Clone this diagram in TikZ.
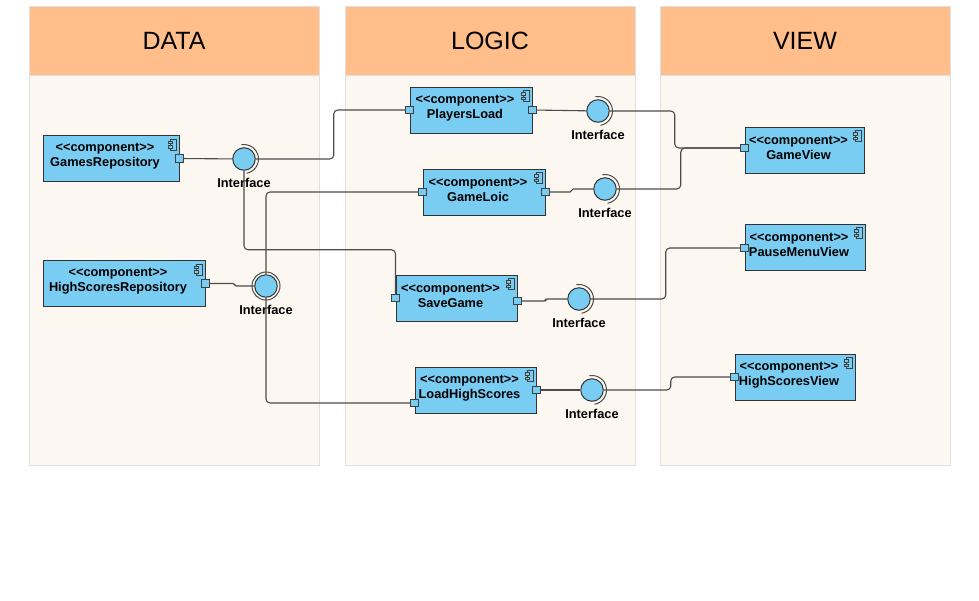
\documentclass[tikz,border=0pt]{standalone}
\usepackage{fontspec}
\setmainfont{Liberation Sans}
\usepackage{xcolor}
\usetikzlibrary{calc}
\usetikzlibrary{shapes}

\definecolor{compblue}{HTML}{79CDF2}
\definecolor{lanehead}{HTML}{FFBE8A}
\definecolor{lanebody}{HTML}{FDF7F1}

\begin{document}
\begin{tikzpicture}[x=1pt,y=-1pt,
	comp/.style={draw=black!80,fill=compblue,line width=1pt,minimum width=121pt,minimum height=46pt,inner sep=0pt},
	ctext/.style={font=\fontsize{12.8}{15}\selectfont\bfseries,align=center,inner sep=0pt},
	port/.style={draw=black!75,fill=compblue,line width=0.8pt,minimum size=7.5pt,inner sep=0pt},
	iface/.style={circle,draw=black!80,fill=compblue,line width=1pt,minimum size=22.5pt,inner sep=0pt,label={[ctext,label distance=7pt]below:Interface}},
	wire/.style={draw=black!70,line width=1.1pt,rounded corners=4pt},
	jog/.style={draw=black!70,line width=1.1pt,rounded corners=1.5pt},
	sock/.style={draw=black!70,line width=1pt},
	lane/.style={draw=black!12,line width=0.8pt,fill=lanebody},
	head/.style={draw=black!12,line width=0.8pt,fill=lanehead,minimum width=290pt,minimum height=69.5pt,inner sep=0pt,font=\fontsize{25}{30}\selectfont}]

	\useasboundingbox (0,0) rectangle (979,600);

	% lanes
	\foreach \x/\t in {29/DATA,345/LOGIC,660/VIEW} {
		\draw[lane] (\x,6) rectangle ++(290,459);
		\node[head] at (\x+145,40.75) {\t};
	}

	% components
	\foreach \n/\x/\y/\w/\t in {grepo/111/158.5/136/GamesRepository,hrepo/124/283.5/162/HighScoresRepository,
		plload/471/110/122/PlayersLoad,gloic/484/192/122/GameLoic,sgame/456.5/298/121/SaveGame,lhs/475.5/390/121/LoadHighScores,
		gview/804.5/150/119/GameView,pmview/805/247/120/PauseMenuView,hsview/795/377/120/HighScoresView} {
		\node[comp,minimum width=\w pt] (\n) at (\x,\y) {};
		\node[ctext] at ($(\n)+(-6,-2)$) {<\kern0pt<component>\kern0pt>\\\t};
		\draw[black!75,line width=0.6pt,fill=compblue] ($(\n.north east)+(-9,4)$) rectangle ++(6,11);
		\draw[black!75,line width=0.6pt,fill=compblue] ($(\n.north east)+(-11,6)$) rectangle ++(4,2.5);
		\draw[black!75,line width=0.6pt,fill=compblue] ($(\n.north east)+(-11,10.5)$) rectangle ++(4,2.5);
	}

	% ports
	\node[port] (grepo-e) at (grepo.east) {};
	\node[port] (hrepo-e) at (hrepo.east) {};
	\node[port] (plload-w) at (plload.west) {};
	\node[port] (plload-e) at (plload.east) {};
	\node[port] (gloic-w) at (gloic.west) {};
	\node[port] (gloic-e) at (gloic.east) {};
	\node[port] (sgame-w) at (sgame.west) {};
	\node[port] (sgame-e) at ($(sgame.east)+(0,3)$) {};
	\node[port] (lhs-w) at ($(lhs.west)+(0,13)$) {};
	\node[port] (lhs-e) at (lhs.east) {};
	\node[port] (gview-w) at ($(gview.west)+(0,-2)$) {};
	\node[port] (pmview-w) at ($(pmview.west)+(0,1)$) {};
	\node[port] (hsview-w) at (hsview.west) {};

	% interfaces
	\node[iface] (igames) at (244,159) {};
	\node[iface] (ihigh) at (266,286) {};
	\node[iface] (iplayers) at (598,111) {};
	\node[iface] (iloic) at (605,189) {};
	\node[iface] (isave) at (579,299) {};
	\node[iface] (iload) at (592,390) {};
	\foreach \i in {igames,iplayers,iloic,isave,iload}
		\draw[sock] (\i.center) ++(100:14.5pt) arc[start angle=100,end angle=-80,radius=14.5pt];
	\draw[sock] (ihigh) circle[radius=14pt];

	% wires
	\draw[wire] (grepo-e) -- (igames);
	\draw[wire] (igames.east) -- ++(78,0) |- (plload-w.west);
	\draw[wire] (igames.south) -- ++(0,79) -| (sgame-w.north);
	\draw[jog] (hrepo-e.east) -- ++(25,0) |- (ihigh.west);
	\draw[wire] (gloic-w.west) -| (ihigh.north);
	\draw[wire] (ihigh.south) |- (lhs-w.west);
	\draw[wire] (plload-e) -- (iplayers);
	\draw[wire] (iplayers.east) -- ++(65,0) |- (gview-w.west);
	\draw[jog] (gloic-e.east) -- ++(22,0) |- (iloic.west);
	\draw[wire] (iloic.east) -- ++(64,0) |- (gview-w.west);
	\draw[jog] (sgame-e.east) -- ++(24,0) |- (isave.west);
	\draw[wire] (isave.east) -- ++(75,0) |- (pmview-w.west);
	\draw[wire] (lhs-e) -- (iload);
	\draw[wire] (iload.east) -- ++(67,0) |- (hsview-w.west);

\end{tikzpicture}
\end{document}
